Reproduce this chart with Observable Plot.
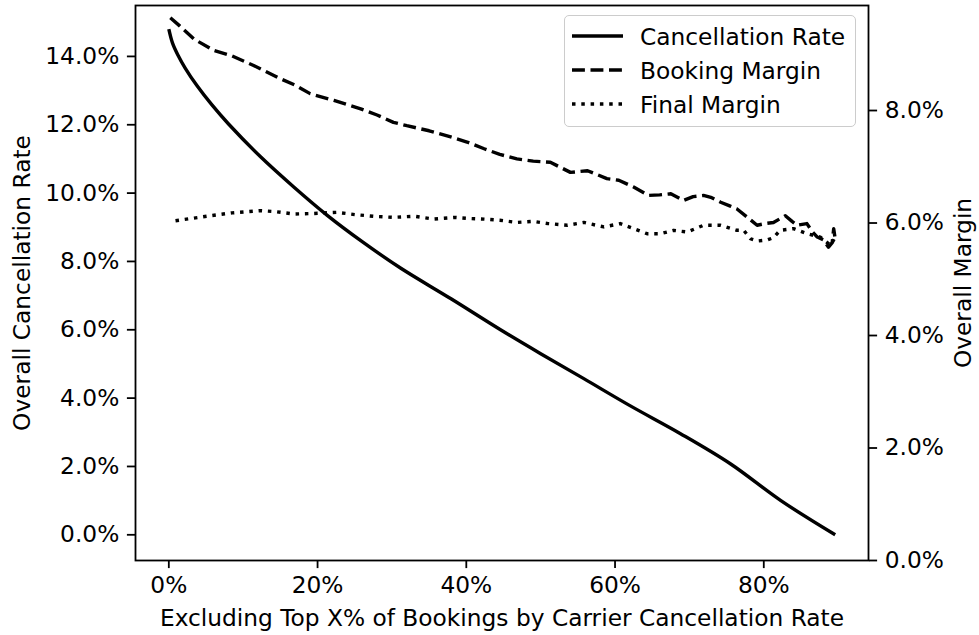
<!DOCTYPE html>
<html><head><meta charset="utf-8">
<script src="https://cdn.jsdelivr.net/npm/d3@7"></script>
<script src="https://cdn.jsdelivr.net/npm/@observablehq/plot@0.6"></script>
<style>
body{margin:0;background:#fff;}
#chart{position:relative;width:979px;height:635px;font-family:"DejaVu Sans",sans-serif;color:#000;}
#legend{position:absolute;left:564px;top:15px;width:292px;height:112px;border:1.5px solid #cccccc;border-radius:5px;background:rgba(255,255,255,0.8);font-size:23.3px;box-sizing:border-box;}
.row{position:absolute;left:0;height:34px;display:flex;align-items:center;white-space:nowrap;}
.row svg{margin-left:7px;margin-right:17px;}
</style></head><body><div id="chart"></div>
<script>
// ---- data (percent units) ----
const cancelX = [0.0, 0.5, 1.2, 2.2, 3.8, 5.8, 8.0, 12.3, 16.8, 21.3, 26.0, 31.2, 38.0, 44.6, 50.0, 55.8, 62.0, 68.8, 75.5, 82.3, 89.6];
const cancelY = [14.8, 14.39, 14.05, 13.66, 13.14, 12.58, 12.03, 11.07, 10.18, 9.35, 8.58, 7.8, 6.9, 6.0, 5.3, 4.57, 3.78, 2.96, 2.08, 1.0, 0.0];

const bookX = [0.2, 1.5, 3.4, 6.0, 8.5, 11.4, 14.6, 17.0, 19.0, 22.2, 25.8, 28.0, 30.2, 32.0, 35.0, 37.9, 40.1, 42.4, 44.5, 46.8, 49.0, 51.3, 54.0, 56.3, 58.9, 60.5, 62.5, 64.5, 66.0, 67.5, 69.2, 70.5, 71.9, 73.0, 74.2, 75.5, 76.4, 77.8, 79.1, 80.2, 81.3, 82.9, 83.8, 84.5, 85.8, 86.5, 87.2, 88.0, 88.7, 89.2, 89.4, 89.6];
const bookY = [9.65, 9.50, 9.27, 9.07, 8.97, 8.80, 8.59, 8.45, 8.30, 8.18, 8.03, 7.92, 7.79, 7.73, 7.64, 7.53, 7.44, 7.32, 7.22, 7.14, 7.10, 7.08, 6.90, 6.93, 6.79, 6.76, 6.64, 6.49, 6.50, 6.52, 6.40, 6.47, 6.49, 6.45, 6.37, 6.30, 6.25, 6.10, 5.96, 5.99, 6.01, 6.13, 6.03, 5.96, 5.99, 5.85, 5.75, 5.70, 5.57, 5.65, 5.90, 5.72];

const finalX = [0.9, 3.0, 5.6, 8.5, 12.3, 14.5, 16.8, 19.5, 22.6, 25.0, 27.5, 30.2, 33.0, 35.6, 38.5, 40.5, 42.4, 44.5, 46.8, 49.0, 51.0, 53.6, 55.8, 58.5, 60.7, 62.5, 64.3, 66.1, 67.9, 69.7, 71.9, 74.2, 76.4, 77.3, 78.2, 79.1, 80.5, 81.3, 82.2, 84.0, 85.8, 87.6, 89.0, 89.6];
const finalY = [6.04, 6.08, 6.13, 6.18, 6.22, 6.20, 6.16, 6.17, 6.19, 6.15, 6.12, 6.10, 6.12, 6.07, 6.10, 6.08, 6.07, 6.05, 6.01, 6.03, 5.99, 5.96, 6.01, 5.93, 5.99, 5.90, 5.81, 5.81, 5.87, 5.84, 5.96, 5.96, 5.87, 5.87, 5.72, 5.68, 5.70, 5.74, 5.87, 5.90, 5.81, 5.75, 5.60, 5.75];

const xTicks = [0, 20, 40, 60, 80];
const leftTicks = [0, 2, 4, 6, 8, 10, 12, 14];
const rightTicks = [0, 2, 4, 6, 8];
const seriesNames = ["Cancellation Rate", "Booking Margin", "Final Margin"];
const xLabel = "Excluding Top X% of Bookings by Carrier Cancellation Rate";
const leftLabel = "Overall Cancellation Rate";
const rightLabel = "Overall Margin";

// ---- scales ----
const xDomain = [-4.48, 94.08];
const L = [-0.752, 15.49];   // left axis domain
const R = [0, 9.867];        // right axis domain
const toLeft = r => L[0] + (r - R[0]) * (L[1] - L[0]) / (R[1] - R[0]);
const fromLeft = l => R[0] + (l - L[0]) * (R[1] - R[0]) / (L[1] - L[0]);
const fmt1 = v => { const s = (Math.abs(v) < 1e-9 ? 0 : v).toFixed(1); return (s === "-0.0" ? "0.0" : s) + "%"; };

const cancel = cancelX.map((x, i) => ({x, y: cancelY[i]}));
const book = bookX.map((x, i) => ({x, y: toLeft(bookY[i])}));
const fin = finalX.map((x, i) => ({x, y: toLeft(finalY[i])}));

const LW = 3.4, SW = 1.8, TS = 8.1, FS = 23.3;
const styles = [
  {dash: null},
  {dash: "12.9,5.6"},
  {dash: "3.5,5.8"}
];

const chart = Plot.plot({
  width: 979, height: 635,
  marginLeft: 135, marginRight: 111, marginTop: 5, marginBottom: 75,
  style: {fontFamily: "'DejaVu Sans', sans-serif", fontSize: FS + "px", color: "#000", background: "#fff", overflow: "visible"},
  x: {domain: xDomain},
  y: {domain: L},
  marks: [
    Plot.line(cancel, {x: "x", y: "y", stroke: "#000", strokeWidth: LW, curve: "catmull-rom", strokeLinecap: "butt"}),
    Plot.line(book, {x: "x", y: "y", stroke: "#000", strokeWidth: LW, strokeDasharray: styles[1].dash, strokeLinecap: "butt"}),
    Plot.line(fin, {x: "x", y: "y", stroke: "#000", strokeWidth: LW, strokeDasharray: styles[2].dash, strokeLinecap: "butt"}),
    Plot.frame({stroke: "#000", strokeWidth: SW}),
    Plot.axisX(xTicks, {tickFormat: d => d + "%", tickSize: TS, tickPadding: TS, label: null, strokeWidth: SW, fontSize: FS}),
    Plot.axisY(leftTicks, {anchor: "left", tickFormat: fmt1, tickSize: TS, tickPadding: TS, label: null, strokeWidth: SW, fontSize: FS}),
    Plot.axisY(rightTicks.map(toLeft), {anchor: "right", tickFormat: d => fmt1(fromLeft(d)), tickSize: TS, tickPadding: TS, label: null, strokeWidth: SW, fontSize: FS}),
    Plot.text([xLabel], {text: d => d, frameAnchor: "bottom", textAnchor: "middle", dy: 58, lineAnchor: "middle", fontSize: FS}),
    Plot.text([leftLabel], {text: d => d, frameAnchor: "left", textAnchor: "middle", dx: -113, rotate: -90, lineAnchor: "middle", fontSize: FS}),
    Plot.text([rightLabel], {text: d => d, frameAnchor: "right", textAnchor: "middle", dx: 95, rotate: -90, lineAnchor: "middle", fontSize: FS})
  ]
});

const root = document.getElementById("chart");
root.appendChild(chart);

// legend (inside axes, upper right, like matplotlib)
const legend = document.createElement("div");
legend.id = "legend";
seriesNames.forEach((name, i) => {
  const row = document.createElement("div");
  row.className = "row";
  row.style.top = (3 + i * 34) + "px";
  const ns = "http://www.w3.org/2000/svg";
  const s = document.createElementNS(ns, "svg");
  s.setAttribute("width", 51); s.setAttribute("height", 10);
  const ln = document.createElementNS(ns, "line");
  ln.setAttribute("x1", 0); ln.setAttribute("x2", 51);
  ln.setAttribute("y1", 5); ln.setAttribute("y2", 5);
  ln.setAttribute("stroke", "#000"); ln.setAttribute("stroke-width", LW);
  if (styles[i].dash) ln.setAttribute("stroke-dasharray", styles[i].dash);
  s.appendChild(ln);
  row.appendChild(s);
  const t = document.createElement("span");
  t.textContent = name;
  row.appendChild(t);
  legend.appendChild(row);
});
root.appendChild(legend);
</script>
</body></html>
